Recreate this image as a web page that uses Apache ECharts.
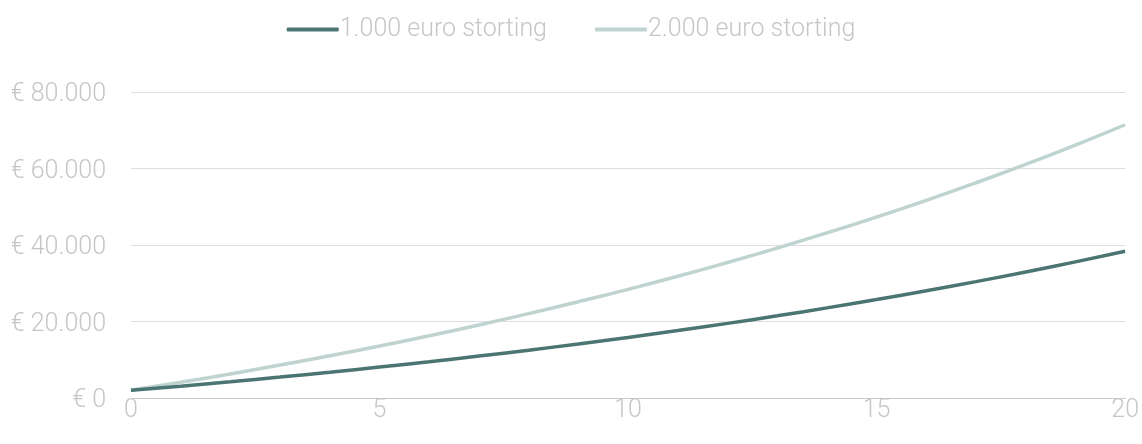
<!DOCTYPE html>
<html>
<head>
    <meta charset="utf-8">
    <title>Storting groei</title>
    <script src="https://cdn.jsdelivr.net/npm/echarts@6/dist/echarts.min.js"></script>
    <style>
        html, body { margin: 0; padding: 0; background: #fff; }
    </style>
</head>
<body>
    <div id="chart" style="width:1142px;height:444px;"></div>

    <script type="text/javascript">
        var years = [0,1,2,3,4,5,6,7,8,9,10,11,12,13,14,15,16,17,18,19,20];
        var seriesNames = ['1.000 euro storting', '2.000 euro storting'];
        var storting1000 = [2000,3100,4250,5470,6740,8080,9480,10960,12500,14130,15840,17630,19510,21480,23560,25740,28020,30420,32950,35590,38370];
        var storting2000 = [2000,4100,6300,8620,11050,13600,16280,19100,22050,25160,28410,31830,35430,39200,43160,47320,51680,56270,61080,66130,71440];
        var yTicks = [0, 20000, 40000, 60000, 80000];

        function pairs(xs, ys) {
            var out = [];
            for (var i = 0; i < xs.length; i++) {
                out.push([xs[i], ys[i]]);
            }
            return out;
        }

        function euro(v) {
            // dutch thousands separator, wrapped in rich style to nudge it down
            return '{v|€ ' + String(v).replace(/\B(?=(\d{3})+(?!\d))/g, '.') + '}';
        }

        var labelStyle = {
            color: '#c6c6c6',
            fontFamily: 'Roboto',
            fontWeight: 300,
            fontSize: 25
        };

        var option = {
            animation: false,
            legend: {
                top: 12,
                left: 'center',
                itemWidth: 52,
                itemHeight: 4,
                itemGap: 48,
                icon: 'roundRect',
                data: seriesNames,
                textStyle: {
                    color: '#c6c6c6',
                    fontFamily: 'Roboto',
                    fontWeight: 300,
                    fontSize: 25,
                    padding: [0, 0, 0, -4]
                }
            },
            grid: {
                left: 131,
                right: 16,
                top: 92,
                bottom: 46
            },
            xAxis: {
                type: 'value',
                min: 0,
                max: 20,
                interval: 5,
                axisLine: { show: true, lineStyle: { color: '#cacaca', width: 1 } },
                axisTick: { show: false },
                splitLine: { show: false },
                axisLabel: Object.assign({ margin: 0 }, labelStyle)
            },
            yAxis: {
                type: 'value',
                min: yTicks[0],
                max: yTicks[yTicks.length - 1],
                interval: 20000,
                axisLine: { show: false },
                axisTick: { show: false },
                splitLine: {
                    lineStyle: { color: '#dedede', width: 1 }
                },
                axisLabel: Object.assign({
                    margin: 25,
                    formatter: euro,
                    rich: {
                        v: {
                            color: '#c6c6c6',
                            fontFamily: 'Roboto',
                            fontWeight: 300,
                            fontSize: 25,
                            padding: [6, 0, 0, 0]
                        }
                    }
                }, labelStyle)
            },
            series: [
                {
                    name: seriesNames[0],
                    type: 'line',
                    smooth: true,
                    showSymbol: false,
                    z: 3,
                    data: pairs(years, storting1000),
                    lineStyle: { color: '#4b7573', width: 3.5 },
                    itemStyle: { color: '#4b7573' }
                },
                {
                    name: seriesNames[1],
                    type: 'line',
                    smooth: true,
                    showSymbol: false,
                    z: 2,
                    data: pairs(years, storting2000),
                    lineStyle: { color: '#bfd3d0', width: 3.5 },
                    itemStyle: { color: '#bfd3d0' }
                }
            ]
        };

        var myChart = echarts.init(document.getElementById('chart'));
        myChart.setOption(option);
    </script>
</body>
</html>
